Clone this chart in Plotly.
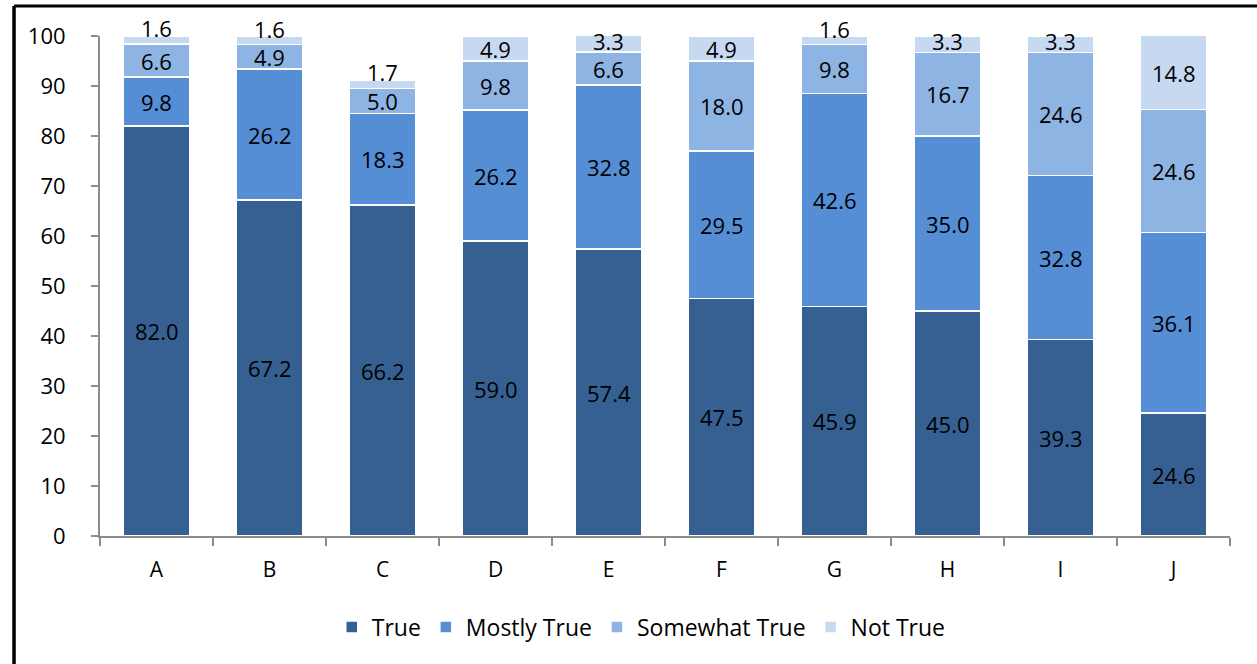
import plotly.graph_objects as go

# Category labels and stacked series values (percent)
categories = ["A", "B", "C", "D", "E", "F", "G", "H", "I", "J"]
true_vals = [82.0, 67.2, 66.2, 59.0, 57.4, 47.5, 45.9, 45.0, 39.3, 24.6]
mostly_true = [9.8, 26.2, 18.3, 26.2, 32.8, 29.5, 42.6, 35.0, 32.8, 36.1]
somewhat_true = [6.6, 4.9, 5.0, 9.8, 6.6, 18.0, 9.8, 16.7, 24.6, 24.6]
not_true = [1.6, 1.6, 1.7, 4.9, 3.3, 4.9, 1.6, 3.3, 3.3, 14.8]

series = [
    ("True", true_vals, "#366092"),
    ("Mostly True", mostly_true, "#558ED5"),
    ("Somewhat True", somewhat_true, "#8EB4E3"),
    ("Not True", not_true, "#C6D9F1"),
]

W, H = 1257, 664
ML, MR, MT, MB = 99.5, 27, 36, 128
FONT = "Open Sans"

fig = go.Figure()
annotations = []
base = [0.0] * len(categories)
for name, vals, color in series:
    fig.add_trace(go.Bar(
        name=name, x=categories, y=vals, marker_color=color,
        marker_line_color="white", marker_line_width=1.5,
    ))
    for i, v in enumerate(vals):
        mid = base[i] + v / 2
        # very thin segments get their label lifted so it clears the bar
        shift = 12 if v < 2 else (3 if v < 4 else 0)
        annotations.append(dict(
            x=categories[i], y=mid, xref="x", yref="y", text=f"{v:.1f}",
            showarrow=False, yshift=shift,
            font=dict(family=FONT, size=22, color="black"),
        ))
        base[i] += v

pw = W - ML - MR
ph = H - MT - MB


def px_x(p):
    return (p - ML) / pw


def px_y(p):
    return (H - MB - p) / ph


# outer frame (left and top edges visible)
shapes = [
    dict(type="line", xref="paper", yref="paper",
         x0=px_x(13.5), x1=px_x(W + 5), y0=px_y(6), y1=px_y(6),
         line=dict(color="black", width=3)),
    dict(type="line", xref="paper", yref="paper",
         x0=px_x(13.5), x1=px_x(13.5), y0=px_y(6), y1=px_y(H + 5),
         line=dict(color="black", width=3.5)),
]

fig.update_layout(
    width=W, height=H,
    barmode="stack", bargap=0.41,
    plot_bgcolor="white", paper_bgcolor="white",
    margin=dict(l=ML, r=MR, t=MT, b=MB),
    font=dict(family=FONT, size=22, color="black"),
    annotations=annotations, shapes=shapes,
    legend=dict(orientation="h", x=px_x(641), xanchor="center",
                y=px_y(627), yanchor="middle",
                font=dict(family=FONT, size=23), itemwidth=30,
                traceorder="normal"),
    xaxis=dict(showline=True, linecolor="#8C8C8C", linewidth=2,
               ticks="outside", tickson="boundaries", ticklen=8,
               tickcolor="#8C8C8C", tickwidth=2, showgrid=False,
               ticklabelstandoff=14,
               tickfont=dict(family=FONT, size=21)),
    yaxis=dict(range=[0, 100], dtick=10, showline=True, linecolor="#8C8C8C",
               linewidth=2, ticks="outside", ticklen=7, tickcolor="#8C8C8C",
               tickwidth=2, showgrid=False, zeroline=False,
               ticklabelstandoff=21,
               tickfont=dict(family=FONT, size=22)),
)

fig.write_html("out.html")
